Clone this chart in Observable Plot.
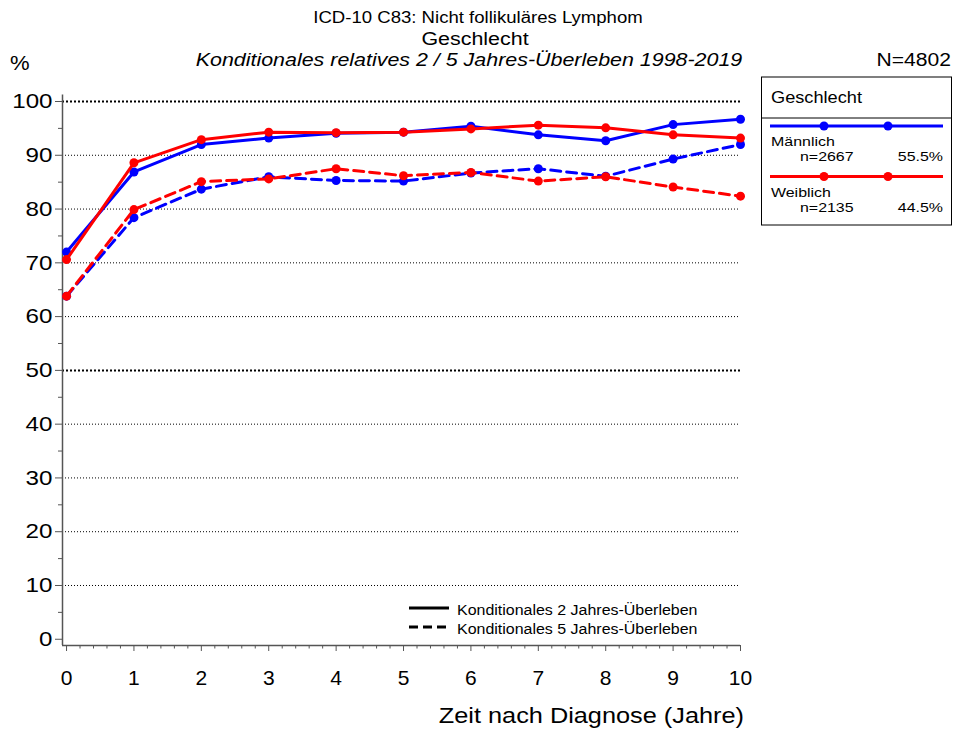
<!DOCTYPE html>
<html>
<head>
<meta charset="utf-8">
<script src="https://cdn.jsdelivr.net/npm/d3@7"></script>
<script src="https://cdn.jsdelivr.net/npm/@observablehq/plot@0.6"></script>
<style>
  html, body { margin: 0; padding: 0; background: #fff; }
  #chart svg { display: block; font-family: "Liberation Sans", Arial, sans-serif; }
</style>
</head>
<body>
<div id="chart"></div>
<script>
// ---- data ----
const years = [0, 1, 2, 3, 4, 5, 6, 7, 8, 9, 10];
const maleTwo    = [72.0, 86.9, 92.0, 93.2, 94.1, 94.3, 95.4, 93.8, 92.7, 95.7, 96.7];
const femaleTwo  = [70.6, 88.6, 92.9, 94.3, 94.2, 94.3, 94.9, 95.6, 95.1, 93.8, 93.2];
const maleFive   = [63.8, 78.4, 83.7, 86.0, 85.3, 85.2, 86.7, 87.5, 86.1, 89.3, 92.0];
const femaleFive = [63.8, 79.9, 85.1, 85.6, 87.5, 86.2, 86.8, 85.2, 86.0, 84.1, 82.4];
const yTicks = [0, 10, 20, 30, 40, 50, 60, 70, 80, 90, 100];
const yMinor = [5, 15, 25, 35, 45, 55, 65, 75, 85, 95];
const gridThin = [10, 20, 30, 40, 60, 70, 80, 90];
const gridThick = [50, 100];
const xTicks = years;
const xMinor = d3.range(0, 10.01, 0.2).map(d => +d.toFixed(1)).filter(d => !Number.isInteger(d));

const titles = {
  t1: "ICD-10 C83: Nicht follikuläres Lymphom",
  t2: "Geschlecht",
  t3: "Konditionales relatives 2 / 5 Jahres-Überleben 1998-2019",
  n: "N=4802",
  yLabel: "%",
  xLabel: "Zeit nach Diagnose (Jahre)"
};
const groups = [
  {name: "Männlich", n: "n=2667", pct: "55.5%", color: "#0000ff"},
  {name: "Weiblich", n: "n=2135", pct: "44.5%", color: "#ff0000"}
];
const lineTypes = ["Konditionales 2 Jahres-Überleben", "Konditionales 5 Jahres-Überleben"];

const mk = (vals) => years.map((x, i) => ({x, y: vals[i]}));
const BLUE = "#0000ff", RED = "#ff0000";
const DASH = "10,6";

const chart = Plot.plot({
  width: 954,
  height: 731,
  marginLeft: 62,
  marginRight: 214,
  marginTop: 101,
  marginBottom: 86,
  style: {fontFamily: "Liberation Sans, Arial, sans-serif", color: "#000", background: "#fff"},
  x: {domain: [-0.06, 10]},
  y: {domain: [-1.16, 100]},
  marks: [
    Plot.ruleY(gridThin, {stroke: "#000", strokeWidth: 1, strokeDasharray: "1,2"}),
    Plot.ruleY(gridThick, {stroke: "#000", strokeWidth: 2, strokeDasharray: "2,2"}),
    Plot.ruleX([-0.06], {y1: -1.16, y2: 101.2, stroke: "#555", strokeWidth: 1.5, clip: false}),
    Plot.ruleY([-1.16], {x1: -0.06, x2: 10, stroke: "#555", strokeWidth: 1.5}),
    Plot.axisY({ticks: yTicks, tickSize: 7, tickPadding: 3, fontSize: 21, label: null, stroke: "#555"}),
    Plot.axisY({ticks: yMinor, tickSize: 4, tickFormat: () => "", label: null, stroke: "#555"}),
    Plot.axisX({ticks: xTicks, tickSize: 6, tickPadding: 19, fontSize: 21, label: null, stroke: "#555"}),
    Plot.axisX({ticks: xMinor, tickSize: 3.5, tickFormat: () => "", label: null, stroke: "#555"}),
    Plot.line(mk(maleFive), {x: "x", y: "y", stroke: BLUE, strokeWidth: 3, strokeDasharray: DASH}),
    Plot.dot(mk(maleFive), {x: "x", y: "y", fill: BLUE, r: 4.5}),
    Plot.line(mk(femaleFive), {x: "x", y: "y", stroke: RED, strokeWidth: 3, strokeDasharray: DASH}),
    Plot.dot(mk(femaleFive), {x: "x", y: "y", fill: RED, r: 4.5}),
    Plot.line(mk(maleTwo), {x: "x", y: "y", stroke: BLUE, strokeWidth: 3}),
    Plot.dot(mk(maleTwo), {x: "x", y: "y", fill: BLUE, r: 4.5}),
    Plot.line(mk(femaleTwo), {x: "x", y: "y", stroke: RED, strokeWidth: 3}),
    Plot.dot(mk(femaleTwo), {x: "x", y: "y", fill: RED, r: 4.5})
  ]
});

document.getElementById("chart").appendChild(chart);

// ---- annotations: titles, legends ----
const svg = d3.select(chart);
const FONT = "Liberation Sans, Arial, sans-serif";
// widen glyphs horizontally (reference font is slightly wider than Liberation Sans)
const stretch = (node, f) => {
  const L = node.getComputedTextLength();
  if (L > 0) {
    node.setAttribute("textLength", (L * f).toFixed(1));
    node.setAttribute("lengthAdjust", "spacingAndGlyphs");
  }
};
const txt = (x, y, s, size, anchor = "start", italic = false, f = 1.16) => {
  const t = svg.append("text").attr("x", x).attr("y", y).attr("font-size", size)
    .attr("font-family", FONT).attr("text-anchor", anchor).attr("fill", "#000")
    .attr("font-style", italic ? "italic" : "normal").text(s);
  stretch(t.node(), f);
  return t;
};

txt(478, 23, titles.t1, 16, "middle", false, 1.16);
txt(475, 45, titles.t2, 18, "middle", false, 1.19);
txt(469, 66, titles.t3, 18, "middle", true, 1.19);
txt(951, 66, titles.n, 18, "end", false, 1.17);
txt(10, 70, titles.yLabel, 20, "start", false, 1.1);
txt(744, 723, titles.xLabel, 22, "end", false, 1.15);

// stretch the y tick labels a little
svg.selectAll('g[aria-label="y-axis tick label"] text').each(function () { stretch(this, 1.15); });

// right legend box
const lg = svg.append("g");
lg.append("rect").attr("x", 761.5).attr("y", 77).attr("width", 190).attr("height", 148)
  .attr("fill", "#fff").attr("stroke", "#000").attr("stroke-width", 1);
lg.append("line").attr("x1", 761.5).attr("x2", 951.5).attr("y1", 118).attr("y2", 118)
  .attr("stroke", "#000").attr("stroke-width", 1);
txt(771, 103, "Geschlecht", 17, "start", false, 1.07);
groups.forEach((g, i) => {
  const y0 = 126 + i * 50.5;
  lg.append("line").attr("x1", 770).attr("x2", 943).attr("y1", y0).attr("y2", y0)
    .attr("stroke", g.color).attr("stroke-width", 3);
  [824, 888].forEach(cx => lg.append("circle").attr("cx", cx).attr("cy", y0).attr("r", 4.5).attr("fill", g.color));
  txt(771, y0 + 20, g.name, 13.5, "start", false, 1.18);
  txt(800, y0 + 35, g.n, 13.5, "start", false, 1.18);
  txt(943, y0 + 35, g.pct, 13.5, "end", false, 1.18);
});

// line-type legend
lineTypes.forEach((s, i) => {
  const y0 = 608 + i * 19;
  svg.append("line").attr("x1", 409).attr("x2", 449).attr("y1", y0).attr("y2", y0)
    .attr("stroke", "#000").attr("stroke-width", 3)
    .attr("stroke-dasharray", i === 1 ? "9,5" : null);
  txt(457, y0 + 7, s, 14, "start", false, 1.14);
});
</script>
</body>
</html>
